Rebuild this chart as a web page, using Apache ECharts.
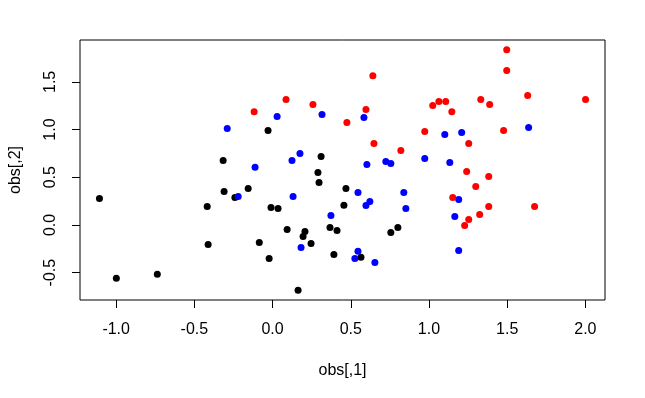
<!DOCTYPE html>
<html>
<head>
<meta charset="utf-8">
<script src="https://cdn.jsdelivr.net/npm/echarts@6/dist/echarts.min.js"></script>
<style>
  html, body { margin: 0; padding: 0; background: #fff; }
  #chart { width: 645px; height: 398px; }
</style>
</head>
<body>
<div id="chart"></div>
<script>
// obs[,1] / obs[,2] per colour group
const blackX = [-0.316, -0.029, 0.310, -1.107, -0.310, -0.156, -0.241, -0.418, -0.412, -0.085,
  -0.999, -0.737, 0.290, 0.297, 0.469, -0.010, 0.035, 0.456, 0.093, 0.207,
  0.195, 0.367, 0.412, 0.801, 0.756, 0.246, -0.022, 0.392, 0.565, 0.163]
const blackY = [0.675, 0.990, 0.717, 0.277, 0.351, 0.382, 0.288, 0.194, -0.204, -0.183,
  -0.560, -0.518, 0.550, 0.445, 0.382, 0.183, 0.173, 0.207, -0.047, -0.068,
  -0.120, -0.026, -0.058, -0.026, -0.079, -0.194, -0.351, -0.309, -0.340, -0.686]

const blueX = [-0.290, -0.112, 0.029, 0.316, 0.584, 0.175, 0.124, 0.603, 0.724, 0.756,
  0.973, 1.101, 1.209, 1.637, 1.133, -0.220, 0.131, 0.546, 0.839, 0.622,
  0.597, 0.852, 0.373, 0.182, 0.546, 0.526, 0.654, 1.190, 1.165, 1.190]
const blueY = [1.010, 0.605, 1.136, 1.157, 1.126, 0.749, 0.675, 0.634, 0.665, 0.644,
  0.696, 0.948, 0.969, 1.021, 0.654, 0.298, 0.298, 0.340, 0.340, 0.246,
  0.204, 0.173, 0.099, -0.236, -0.277, -0.351, -0.393, 0.267, 0.089, -0.267]

const redX = [-0.118, 0.086, 0.258, 0.641, 0.597, 0.475, 0.973, 0.648, 0.820, 1.497,
  1.497, 1.631, 2.001, 1.024, 1.063, 1.107, 1.146, 1.331, 1.388, 1.477,
  1.254, 1.241, 1.382, 1.299, 1.152, 1.382, 1.675, 1.324, 1.254, 1.228]
const redY = [1.188, 1.314, 1.262, 1.565, 1.209, 1.073, 0.979, 0.853, 0.780, 1.838,
  1.618, 1.356, 1.314, 1.251, 1.293, 1.293, 1.188, 1.314, 1.262, 0.990,
  0.853, 0.560, 0.508, 0.403, 0.288, 0.194, 0.194, 0.110, 0.058, -0.005]

const xTicks = [-1.0, -0.5, 0.0, 0.5, 1.0, 1.5, 2.0]
const yTicks = [-0.5, 0.0, 0.5, 1.0, 1.5]

const zip = (xs, ys) => xs.map((x, i) => [x, ys[i]])

// R pads the data range by 4% on each side
const pad = (vals) => {
  const lo = Math.min(...vals), hi = Math.max(...vals)
  const d = (hi - lo) * 0.04
  return [lo - d, hi + d]
}
const allX = blackX.concat(blueX, redX)
const allY = blackY.concat(blueY, redY)
const [xMin, xMax] = pad(allX)
const [yMin, yMax] = pad(allY)

const font = 'Liberation Sans, Arial, sans-serif'
const fmt = (v) => Number(v).toFixed(1)

const chart = echarts.init(document.getElementById('chart'))

chart.setOption({
  animation: false,
  backgroundColor: '#fff',
  grid: {
    left: 79, right: 40, top: 40, bottom: 98,
    show: true, borderColor: '#000', borderWidth: 1
  },
  xAxis: {
    type: 'value',
    min: xMin, max: xMax,
    name: 'obs[,1]',
    nameLocation: 'middle',
    nameGap: 63,
    nameTextStyle: { color: '#000', fontSize: 16, fontFamily: font },
    axisLine: { show: false, onZero: false },
    splitLine: { show: false },
    axisTick: { show: true, length: 8, lineStyle: { color: '#000' }, customValues: xTicks },
    axisLabel: {
      customValues: xTicks, formatter: fmt, margin: 22,
      color: '#000', fontSize: 16, fontFamily: font
    }
  },
  yAxis: {
    type: 'value',
    min: yMin, max: yMax,
    name: 'obs[,2]',
    nameLocation: 'middle',
    nameGap: 56,
    nameTextStyle: { color: '#000', fontSize: 16, fontFamily: font },
    axisLine: { show: false, onZero: false },
    splitLine: { show: false },
    axisTick: { show: true, length: 8, lineStyle: { color: '#000' }, customValues: yTicks },
    axisLabel: {
      customValues: yTicks, formatter: fmt, margin: 21, rotate: 90,
      color: '#000', fontSize: 16, fontFamily: font
    }
  },
  series: [
    { type: 'scatter', data: zip(blackX, blackY), symbolSize: 7, itemStyle: { color: '#000000', opacity: 1 } },
    { type: 'scatter', data: zip(blueX, blueY), symbolSize: 7, itemStyle: { color: '#0000ff', opacity: 1 } },
    { type: 'scatter', data: zip(redX, redY), symbolSize: 7, itemStyle: { color: '#ff0000', opacity: 1 } }
  ]
})
</script>
</body>
</html>
